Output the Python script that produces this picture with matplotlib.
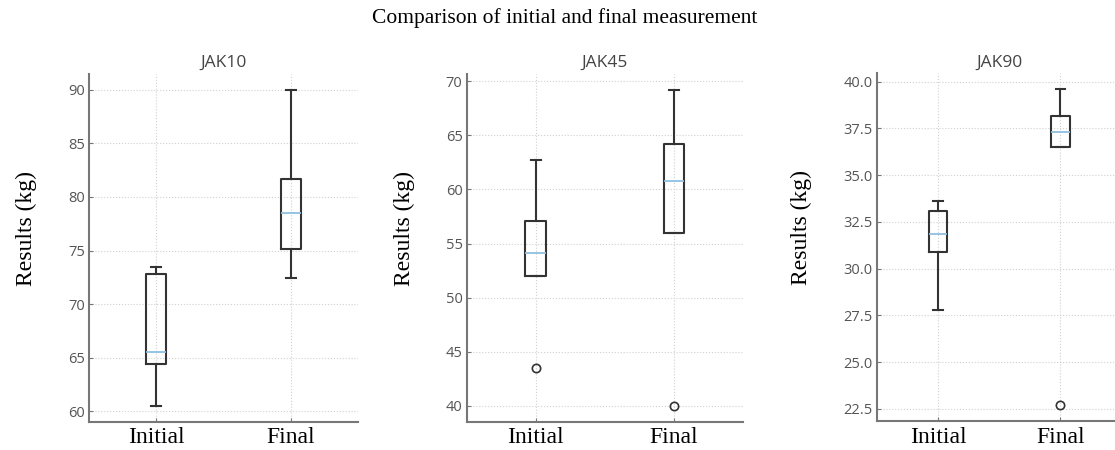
import matplotlib
matplotlib.use("Agg")
import matplotlib.pyplot as plt
from matplotlib.ticker import MultipleLocator

# Valeurs
groupes = ["Initial", "Final"]
panneaux = ["JAK10", "JAK45", "JAK90"]

jak10_whislo = [60.5, 72.4]
jak10_q1 = [64.4, 75.1]
jak10_med = [65.5, 78.5]
jak10_q3 = [72.8, 81.7]
jak10_whishi = [73.5, 90.0]
jak10_fliers = [[], []]

jak45_whislo = [52.0, 56.0]
jak45_q1 = [52.0, 56.0]
jak45_med = [54.1, 60.8]
jak45_q3 = [57.1, 64.2]
jak45_whishi = [62.7, 69.2]
jak45_fliers = [[43.5], [40.0]]

jak90_whislo = [27.8, 36.5]
jak90_q1 = [30.9, 36.5]
jak90_med = [31.85, 37.3]
jak90_q3 = [33.07, 38.16]
jak90_whishi = [33.6, 39.6]
jak90_fliers = [[], [22.7]]

pas_y = [5, 5, 2.5]

donnees = [
    (jak10_whislo, jak10_q1, jak10_med, jak10_q3, jak10_whishi, jak10_fliers),
    (jak45_whislo, jak45_q1, jak45_med, jak45_q3, jak45_whishi, jak45_fliers),
    (jak90_whislo, jak90_q1, jak90_med, jak90_q3, jak90_whishi, jak90_fliers),
]

SERIF = "Liberation Serif"
SANS = "Open Sans"
GRIS = "#555555"

fig = plt.figure(figsize=(11.15, 4.5), dpi=100)

# positions des axes en fraction de figure (le dernier deborde a droite)
positions = [
    (0.0798, 0.0629, 0.2413, 0.7727),
    (0.4186, 0.0629, 0.2478, 0.7727),
    (0.7863, 0.0644, 0.2197, 0.7727),
]
label_x = [-0.193, -0.187, -0.265]

for i, (nom, d) in enumerate(zip(panneaux, donnees)):
    ax = fig.add_axes(positions[i])
    whislo, q1, med, q3, whishi, fliers = d
    stats = []
    for j, g in enumerate(groupes):
        stats.append(dict(label=g, whislo=whislo[j], q1=q1[j], med=med[j],
                          q3=q3[j], whishi=whishi[j], fliers=fliers[j]))

    ax.bxp(stats, positions=[1, 2], widths=0.15,
           boxprops=dict(color="#333333", linewidth=1.5),
           whiskerprops=dict(color="#333333", linewidth=1.5),
           capprops=dict(color="#333333", linewidth=1.5),
           medianprops=dict(color="#8cbfe0", linewidth=1.3),
           flierprops=dict(marker="o", markerfacecolor="none",
                           markeredgecolor="#333333", markersize=6,
                           markeredgewidth=1.2))

    ax.set_xlim(0.5, 2.5)
    ax.yaxis.set_major_locator(MultipleLocator(pas_y[i]))
    if pas_y[i] < 5:
        ax.yaxis.set_major_formatter(matplotlib.ticker.FormatStrFormatter("%.1f"))

    ax.grid(True, color="#d0d0d0", linestyle=":", linewidth=0.8)
    ax.set_axisbelow(True)

    for s in ["top", "right"]:
        ax.spines[s].set_visible(False)
    for s in ["left", "bottom"]:
        ax.spines[s].set_color("#777777")
        ax.spines[s].set_linewidth(1.5)

    ax.tick_params(axis="both", direction="in", length=3, color="#777777")
    ax.tick_params(axis="y", labelcolor=GRIS, labelsize=10.5, pad=3)
    for t in ax.get_yticklabels():
        t.set_family(SANS)
    ax.tick_params(axis="x", labelsize=17, pad=4)
    for t in ax.get_xticklabels():
        t.set_family(SERIF)
        t.set_color("black")

    ax.set_title(nom, fontsize=12.5, family=SANS, color="#444444", pad=5)
    ax.set_ylabel("Results (kg)", fontsize=17, family=SERIF, color="black")
    ax.yaxis.set_label_coords(label_x[i], 0.557)

fig.text(0.506, 0.96, "Comparison of initial and final measurement",
         ha="center", va="center", fontsize=15.5, family=SERIF, color="black")

fig.savefig("out.png", dpi=100)
